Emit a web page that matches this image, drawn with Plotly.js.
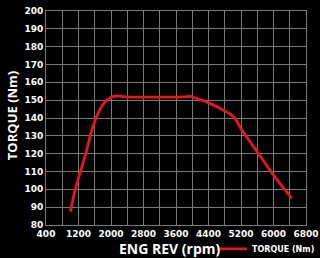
<!DOCTYPE html>
<html><head><meta charset="utf-8">
<script src="https://cdn.plot.ly/plotly-3.0.1.min.js"></script>
<style>html,body{margin:0;padding:0;background:#000;}#c{width:320px;height:258px;}</style>
</head><body><div id="c"></div>
<script>
const rpm    = [1000, 1120, 1250, 1380, 1500, 1600, 1700, 1800, 1900, 2000, 2100, 2200, 2300, 2500, 2800, 3200, 3600, 3800, 3960, 4100, 4300, 4500, 4800, 4950, 5050, 5200, 5600, 6000, 6450];
const torque = [87.5, 100, 110, 120, 131, 138, 143.5, 147.5, 150, 151.5, 152.2, 152.3, 152, 151.7, 151.7, 151.7, 151.7, 151.8, 152.1, 151, 149.5, 147.5, 144, 142, 140, 134, 121, 108, 95];
const xTicks = [400, 1200, 2000, 2800, 3600, 4400, 5200, 6000, 6800];
const yTicks = [80, 90, 100, 110, 120, 130, 140, 150, 160, 170, 180, 190, 200];
const seriesName = 'TORQUE (Nm)';
const xTitle = 'ENG REV (rpm)';
const yTitle = 'TORQUE (Nm)';

const font = 'Open Sans, Lato, sans-serif';
const tfont = 'DejaVu Sans, sans-serif';
Plotly.newPlot('c', [{
  x: rpm, y: torque, type: 'scatter', mode: 'lines', name: seriesName,
  line: {color: '#e8141e', width: 2.8, shape: 'spline', smoothing: 0.6},
  showlegend: true
}], {
  width: 320, height: 258,
  paper_bgcolor: '#000', plot_bgcolor: '#000',
  margin: {l: 46, r: 14, t: 11, b: 33},
  font: {family: font, color: '#fff'},
  xaxis: {
    range: [400, 6800], tickvals: xTicks, ticktext: xTicks.map(String),
    showgrid: true, gridcolor: '#7a7a7a', gridwidth: 1,
    minor: {dtick: 400, tick0: 400, showgrid: true, gridcolor: '#7a7a7a', gridwidth: 1, ticks: ''},
    showline: true, linecolor: '#7a7a7a', linewidth: 1, mirror: true,
    zeroline: false, ticks: '', automargin: false,
    tickfont: {size: 9, color: '#fff', family: tfont, weight: 'bold'}
  },
  yaxis: {
    range: [80, 200], tickvals: yTicks,
    showgrid: true, gridcolor: '#7a7a7a', gridwidth: 1,
    showline: true, linecolor: '#7a7a7a', linewidth: 1, mirror: true,
    zeroline: false, ticks: '', automargin: false,
    tickfont: {size: 9, color: '#fff', family: tfont, weight: 'bold'}
  },
  annotations: [
    {text: xTitle, xref: 'paper', yref: 'paper', x: 0.475, y: -0.112, xanchor: 'center', yanchor: 'middle',
     showarrow: false, font: {size: 14, color: '#fff', family: font, weight: 'bold'}},
    {text: yTitle, xref: 'paper', yref: 'paper', x: -0.131, y: 0.513, xanchor: 'center', yanchor: 'middle',
     textangle: -90, showarrow: false, font: {size: 13, color: '#fff', family: font, weight: 'bold'}}
  ],
  showlegend: true,
  legend: {
    orientation: 'h', xref: 'container', yref: 'container',
    x: 1.0, xanchor: 'right', y: 0.035, yanchor: 'middle',
    font: {size: 8, color: '#fff', family: tfont, weight: 'bold'},
    bgcolor: 'rgba(0,0,0,0)', itemwidth: 30
  }
}, {displayModeBar: false, staticPlot: true});
</script></body></html>
